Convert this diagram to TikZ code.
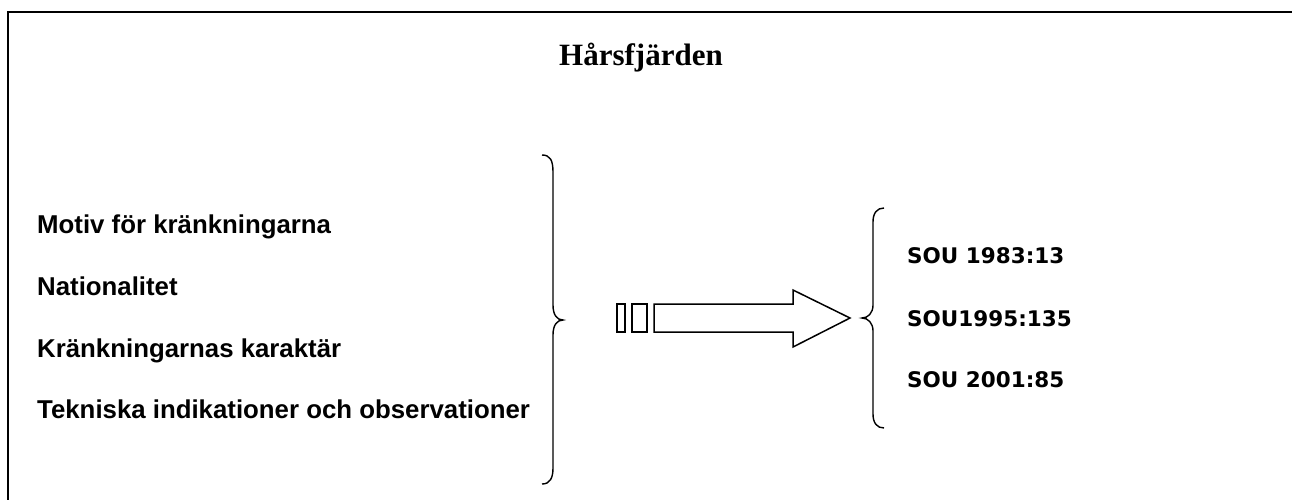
\documentclass[tikz,border=0pt]{standalone}
\usepackage{fontspec}
\setmainfont{Liberation Serif}
\newfontfamily\lsans{Liberation Sans}
\newfontfamily\dsans{DejaVu Sans}
\tikzset{
  frame/.style={line width=2.5pt},
  brace/.style={line width=1.4pt},
  arrowshape/.style={line width=1.5pt},
  lefttext/.style={anchor=base west, inner sep=0pt, font=\lsans\bfseries\fontsize{25.8}{30}\selectfont},
  righttext/.style={anchor=base west, inner sep=0pt, font=\dsans\bfseries\fontsize{21.5}{26}\selectfont},
  titletext/.style={anchor=base, inner sep=0pt, font=\bfseries\fontsize{31}{36}\selectfont}
}
\begin{document}
\begin{tikzpicture}[x=1pt,y=-1pt]
\useasboundingbox (0,0) rectangle (1292,499);
\draw[frame] (8,510) -- (8,12) -- (1300,12);
\node[titletext] (title) at (641,65) {Hårsfjärden};
\node[lefttext] (t1) at (37,233) {Motiv för kränkningarna};
\node[lefttext] (t2) at (37,295) {Nationalitet};
\node[lefttext] (t3) at (37,357) {Kränkningarnas karaktär};
\node[lefttext] (t4) at (37,418) {Tekniska indikationer och observationer};
\draw[brace] (542,155) .. controls (550,155) and (553,160) .. (553,172) -- (553,305) .. controls (553,315) and (557,320) .. (563,320) .. controls (557,320) and (553,325) .. (553,335) -- (553,468) .. controls (553,478) and (550,484) .. (542,484);
\draw[arrowshape] (617,304) rectangle (625,332);
\draw[arrowshape] (632,304) rectangle (647,332);
\draw[arrowshape] (654,304) -- (793,304) -- (793,290) -- (850,318) -- (793,347) -- (793,332) -- (654,332) -- cycle;
\draw[brace] (884,208) .. controls (877,208) and (873,213) .. (873,222) -- (873,305) .. controls (873,313) and (868,318) .. (862,318) .. controls (868,318) and (873,323) .. (873,331) -- (873,414) .. controls (873,423) and (877,428) .. (884,428);
\node[righttext] (s1) at (907,263) {SOU 1983:13};
\node[righttext] (s2) at (907,326) {SOU1995:135};
\node[righttext] (s3) at (907,387) {SOU 2001:85};
\end{tikzpicture}
\end{document}
